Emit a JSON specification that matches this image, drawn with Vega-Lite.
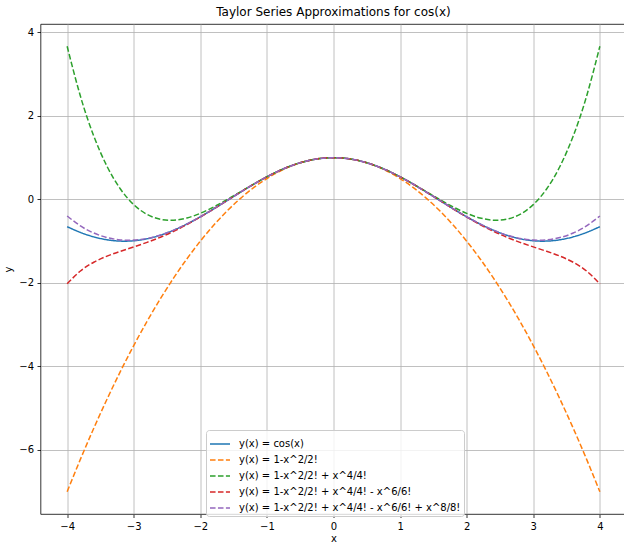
{
  "$schema": "https://vega.github.io/schema/vega-lite/v6.json",
  "width": 586,
  "height": 490,
  "autosize": {"type": "none"},
  "padding": {"left": 40.5, "top": 24, "right": 0, "bottom": 29},
  "background": "white",
  "title": {"text": "Taylor Series Approximations for cos(x)", "fontSize": 12, "font": "DejaVu Sans", "fontWeight": "normal", "offset": 5, "color": "black"},
  "config": {
    "view": {"stroke": "black", "strokeWidth": 0.8},
    "font": "DejaVu Sans",
    "axis": {"domain": false, "gridColor": "#b0b0b0", "gridWidth": 0.8, "tickColor": "black", "tickWidth": 0.8, "tickSize": 3.5, "labelFontSize": 10, "labelColor": "black", "labelPadding": 3.5, "titleFontSize": 10, "titleFontWeight": "normal", "titleColor": "black", "labelFont": "DejaVu Sans", "titleFont": "DejaVu Sans"},
    "legend": {"fillColor": "rgba(255,255,255,0.8)", "strokeColor": "#cccccc", "cornerRadius": 3, "padding": 3, "symbolType": "stroke", "symbolSize": 400, "symbolStrokeWidth": 1.5, "labelFontSize": 10, "labelFont": "DejaVu Sans", "labelColor": "black", "labelOffset": 8, "labelLimit": 0, "rowPadding": -9}
  },
  "data": {"values": [
    {"x": -4.0, "c": -0.65364, "t2": -7, "t4": 3.66667, "t6": -2.02222, "t8": -0.39683},
    {"x": -3.8, "c": -0.79097, "t2": -6.22, "t4": 2.46807, "t6": -1.71379, "t8": -0.63547},
    {"x": -3.6, "c": -0.89676, "t2": -5.48, "t4": 1.5184, "t6": -1.50491, "t8": -0.80523},
    {"x": -3.4, "c": -0.9668, "t2": -4.78, "t4": 0.78807, "t6": -1.3575, "t8": -0.91459},
    {"x": -3.2, "c": -0.9983, "t2": -4.12, "t4": 0.24907, "t6": -1.24224, "t8": -0.96954},
    {"x": -3.0, "c": -0.98999, "t2": -3.5, "t4": -0.125, "t6": -1.1375, "t8": -0.97478},
    {"x": -2.8, "c": -0.94222, "t2": -2.92, "t4": -0.35893, "t6": -1.02823, "t8": -0.93452},
    {"x": -2.6, "c": -0.85689, "t2": -2.38, "t4": -0.47593, "t6": -0.90498, "t8": -0.85319},
    {"x": -2.4, "c": -0.73739, "t2": -1.88, "t4": -0.4976, "t6": -0.76302, "t8": -0.73572},
    {"x": -2.2, "c": -0.5885, "t2": -1.42, "t4": -0.44393, "t6": -0.60141, "t8": -0.5878},
    {"x": -2.0, "c": -0.41615, "t2": -1, "t4": -0.33333, "t6": -0.42222, "t8": -0.41587},
    {"x": -1.8, "c": -0.2272, "t2": -0.62, "t4": -0.1826, "t6": -0.22984, "t8": -0.22711},
    {"x": -1.6, "c": -0.0292, "t2": -0.28, "t4": -0.00693, "t6": -0.03024, "t8": -0.02917},
    {"x": -1.4, "c": 0.16997, "t2": 0.02, "t4": 0.18007, "t6": 0.16961, "t8": 0.16998},
    {"x": -1.2, "c": 0.36236, "t2": 0.28, "t4": 0.3664, "t6": 0.36225, "t8": 0.36236},
    {"x": -1.0, "c": 0.5403, "t2": 0.5, "t4": 0.54167, "t6": 0.54028, "t8": 0.5403},
    {"x": -0.8, "c": 0.69671, "t2": 0.68, "t4": 0.69707, "t6": 0.6967, "t8": 0.69671},
    {"x": -0.6, "c": 0.82534, "t2": 0.82, "t4": 0.8254, "t6": 0.82534, "t8": 0.82534},
    {"x": -0.4, "c": 0.92106, "t2": 0.92, "t4": 0.92107, "t6": 0.92106, "t8": 0.92106},
    {"x": -0.2, "c": 0.98007, "t2": 0.98, "t4": 0.98007, "t6": 0.98007, "t8": 0.98007},
    {"x": 0.0, "c": 1, "t2": 1, "t4": 1, "t6": 1, "t8": 1},
    {"x": 0.2, "c": 0.98007, "t2": 0.98, "t4": 0.98007, "t6": 0.98007, "t8": 0.98007},
    {"x": 0.4, "c": 0.92106, "t2": 0.92, "t4": 0.92107, "t6": 0.92106, "t8": 0.92106},
    {"x": 0.6, "c": 0.82534, "t2": 0.82, "t4": 0.8254, "t6": 0.82534, "t8": 0.82534},
    {"x": 0.8, "c": 0.69671, "t2": 0.68, "t4": 0.69707, "t6": 0.6967, "t8": 0.69671},
    {"x": 1.0, "c": 0.5403, "t2": 0.5, "t4": 0.54167, "t6": 0.54028, "t8": 0.5403},
    {"x": 1.2, "c": 0.36236, "t2": 0.28, "t4": 0.3664, "t6": 0.36225, "t8": 0.36236},
    {"x": 1.4, "c": 0.16997, "t2": 0.02, "t4": 0.18007, "t6": 0.16961, "t8": 0.16998},
    {"x": 1.6, "c": -0.0292, "t2": -0.28, "t4": -0.00693, "t6": -0.03024, "t8": -0.02917},
    {"x": 1.8, "c": -0.2272, "t2": -0.62, "t4": -0.1826, "t6": -0.22984, "t8": -0.22711},
    {"x": 2.0, "c": -0.41615, "t2": -1, "t4": -0.33333, "t6": -0.42222, "t8": -0.41587},
    {"x": 2.2, "c": -0.5885, "t2": -1.42, "t4": -0.44393, "t6": -0.60141, "t8": -0.5878},
    {"x": 2.4, "c": -0.73739, "t2": -1.88, "t4": -0.4976, "t6": -0.76302, "t8": -0.73572},
    {"x": 2.6, "c": -0.85689, "t2": -2.38, "t4": -0.47593, "t6": -0.90498, "t8": -0.85319},
    {"x": 2.8, "c": -0.94222, "t2": -2.92, "t4": -0.35893, "t6": -1.02823, "t8": -0.93452},
    {"x": 3.0, "c": -0.98999, "t2": -3.5, "t4": -0.125, "t6": -1.1375, "t8": -0.97478},
    {"x": 3.2, "c": -0.9983, "t2": -4.12, "t4": 0.24907, "t6": -1.24224, "t8": -0.96954},
    {"x": 3.4, "c": -0.9668, "t2": -4.78, "t4": 0.78807, "t6": -1.3575, "t8": -0.91459},
    {"x": 3.6, "c": -0.89676, "t2": -5.48, "t4": 1.5184, "t6": -1.50491, "t8": -0.80523},
    {"x": 3.8, "c": -0.79097, "t2": -6.22, "t4": 2.46807, "t6": -1.71379, "t8": -0.63547},
    {"x": 4.0, "c": -0.65364, "t2": -7, "t4": 3.66667, "t6": -2.02222, "t8": -0.39683}
  ]},
  "transform": [{"fold": ["c", "t2", "t4", "t6", "t8"], "as": ["s", "y"]}],
  "mark": {"type": "line", "interpolate": "natural", "strokeWidth": 1.5},
  "encoding": {
    "x": {"field": "x", "type": "quantitative", "scale": {"domain": [-4.4, 4.4], "nice": false, "zero": false}, "axis": {"values": [-4, -3, -2, -1, 0, 1, 2, 3, 4], "title": "x", "titlePadding": 2}},
    "y": {"field": "y", "type": "quantitative", "scale": {"domain": [-7.5333, 4.2], "nice": false, "zero": false}, "axis": {"values": [-6, -4, -2, 0, 2, 4], "title": "y", "titlePadding": 5}},
    "color": {"field": "s", "type": "nominal", "scale": {"domain": ["c", "t2", "t4", "t6", "t8"], "range": ["#1f77b4", "#ff7f0e", "#2ca02c", "#d62728", "#9467bd"]},
      "legend": {"title": null, "orient": "none", "legendX": 165.5, "legendY": 406, "labelExpr": "datum.label == 'c' ? 'y(x) = cos(x)' : datum.label == 't2' ? 'y(x) = 1-x^2/2!' : datum.label == 't4' ? 'y(x) = 1-x^2/2! + x^4/4!' : datum.label == 't6' ? 'y(x) = 1-x^2/2! + x^4/4! - x^6/6!' : 'y(x) = 1-x^2/2! + x^4/4! - x^6/6! + x^8/8!'"}},
    "strokeDash": {"field": "s", "type": "nominal", "scale": {"domain": ["c", "t2", "t4", "t6", "t8"], "range": [[1, 0], [5.55, 2.4], [5.55, 2.4], [5.55, 2.4], [5.55, 2.4]]},
      "legend": {"title": null, "orient": "none", "legendX": 165.5, "legendY": 406, "labelExpr": "datum.label == 'c' ? 'y(x) = cos(x)' : datum.label == 't2' ? 'y(x) = 1-x^2/2!' : datum.label == 't4' ? 'y(x) = 1-x^2/2! + x^4/4!' : datum.label == 't6' ? 'y(x) = 1-x^2/2! + x^4/4! - x^6/6!' : 'y(x) = 1-x^2/2! + x^4/4! - x^6/6! + x^8/8!'"}}
  }
}
